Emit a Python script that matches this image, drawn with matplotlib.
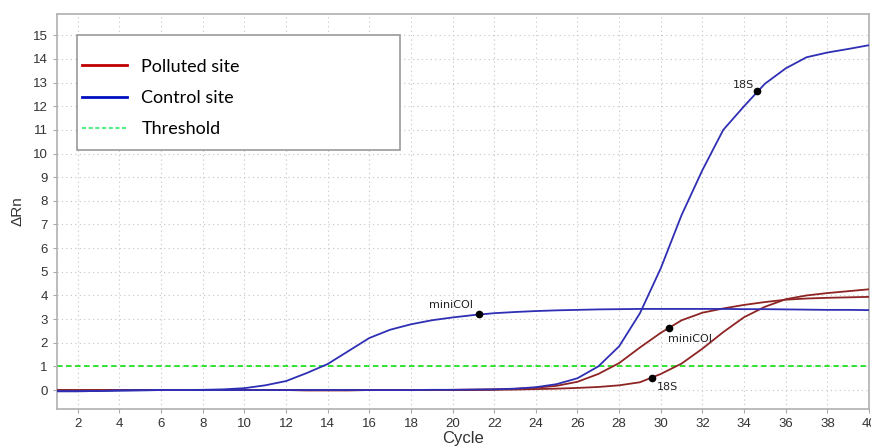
import matplotlib
matplotlib.use("Agg")
import matplotlib.pyplot as plt
from matplotlib.lines import Line2D
from matplotlib.patches import Rectangle

# cycle values
cycles = list(range(1, 41))

# Control site, miniCOI
control_minicoi = [-0.05, -0.05, -0.04, -0.02, -0.01, 0.0, 0.0, 0.01, 0.03, 0.08,
                   0.2, 0.38, 0.72, 1.1, 1.65, 2.2, 2.55, 2.78, 2.95, 3.07,
                   3.17, 3.25, 3.3, 3.34, 3.37, 3.39, 3.41, 3.42, 3.43, 3.43,
                   3.43, 3.43, 3.43, 3.42, 3.42, 3.41, 3.4, 3.39, 3.39, 3.38]
# Control site, 18S
control_18s = [-0.05, -0.05, -0.04, -0.02, -0.01, 0.0, 0.0, 0.0, 0.0, 0.0,
               0.0, 0.0, 0.0, 0.0, 0.0, 0.0, 0.0, 0.0, 0.01, 0.01,
               0.02, 0.03, 0.06, 0.12, 0.25, 0.5, 1.0, 1.85, 3.25, 5.15,
               7.4, 9.3, 11.0, 12.0, 12.95, 13.6, 14.07, 14.27, 14.42, 14.58]
# Polluted site, miniCOI
polluted_minicoi = [0.0, 0.0, 0.0, 0.0, 0.0, 0.0, 0.0, 0.0, 0.0, 0.0,
                    0.0, 0.0, -0.01, -0.01, -0.01, 0.0, 0.0, 0.0, 0.0, 0.01,
                    0.02, 0.03, 0.05, 0.1, 0.18, 0.35, 0.68, 1.14, 1.8, 2.42,
                    2.95, 3.27, 3.45, 3.6, 3.72, 3.82, 3.87, 3.9, 3.92, 3.94]
# Polluted site, 18S
polluted_18s = [0.0, 0.0, 0.0, 0.0, 0.0, 0.0, 0.0, 0.0, 0.0, 0.0,
                0.0, 0.0, -0.01, -0.01, -0.01, 0.0, 0.0, 0.0, 0.0, 0.0,
                0.0, 0.01, 0.02, 0.04, 0.06, 0.09, 0.13, 0.2, 0.33, 0.68,
                1.12, 1.75, 2.45, 3.08, 3.52, 3.84, 4.0, 4.1, 4.18, 4.26]

threshold = 1.0

# labelled points: (x, y, text)
marks = [(21.25, 3.2, "miniCOI"), (34.6, 12.63, "18S"),
         (30.4, 2.62, "miniCOI"), (29.6, 0.5, "18S")]

legend_labels = ["Polluted site", "Control site", "Threshold"]

red = "#8e2424"
blue = "#2f2fb5"

fig = plt.figure(figsize=(8.71, 4.48), dpi=100)
ax = fig.add_axes([0.0654, 0.0871, 0.9323, 0.8817])

ax.axhline(threshold, color="#22e022", lw=1.3, ls=(0, (3, 2)), zorder=2)
ax.plot(cycles, polluted_minicoi, color=red, lw=1.3, zorder=3)
ax.plot(cycles, polluted_18s, color=red, lw=1.3, zorder=3)
ax.plot(cycles, control_minicoi, color=blue, lw=1.3, zorder=3)
ax.plot(cycles, control_18s, color=blue, lw=1.3, zorder=3)

for (x, y, t), off, ha, va in zip(marks,
                                  [(-4, 3), (-2, 1), (-1, -4), (3, -3)],
                                  ["right", "right", "left", "left"],
                                  ["bottom", "bottom", "top", "top"]):
    ax.plot([x], [y], "o", color="black", ms=4.5, zorder=4)
    ax.annotate(t, (x, y), xytext=off, textcoords="offset points",
                ha=ha, va=va, fontsize=8, color="#222222",
                family="DejaVu Sans", zorder=5)

ax.set_xlim(1, 40)
ax.set_ylim(-0.8, 15.9)
ax.set_xticks(range(2, 41, 2))
ax.set_yticks(range(0, 16))
ax.grid(True, color="#c4c4c4", lw=0.8, ls=(0, (1, 3)))
ax.tick_params(labelsize=9.5, colors="#aaaaaa", labelcolor="#333333",
               length=3, width=0.8)
for lab in ax.get_xticklabels() + ax.get_yticklabels():
    lab.set_family("Liberation Sans")
for s in ax.spines.values():
    s.set_color("#b0b0b0")
    s.set_linewidth(1.2)

ax.set_xlabel("Cycle", fontsize=12, family="Liberation Sans",
              color="#333333", labelpad=1)
ax.set_ylabel("\u0394Rn", fontsize=11, family="Liberation Sans",
              color="#333333", labelpad=6)

# legend frame drawn separately, as it is much wider than its entries
ax.add_patch(Rectangle((0.0246, 0.656), 0.398, 0.291, transform=ax.transAxes,
                       facecolor="white", edgecolor="#999999", lw=1.2,
                       zorder=6))
handles = [Line2D([], [], color="#c00000", lw=2),
           Line2D([], [], color="#0010c0", lw=2),
           Line2D([], [], color="#55ee88", lw=1.5, ls=(0, (2, 1.2)))]
leg = ax.legend(handles, legend_labels,
                loc="upper left", bbox_to_anchor=(0.0305, 0.887),
                prop={"family": "Lato", "size": 13},
                frameon=False, borderpad=0, labelspacing=0.85,
                handlelength=2.5, handletextpad=0.8, borderaxespad=0)
leg.set_zorder(7)

fig.savefig("out.png", dpi=100, facecolor="white")
